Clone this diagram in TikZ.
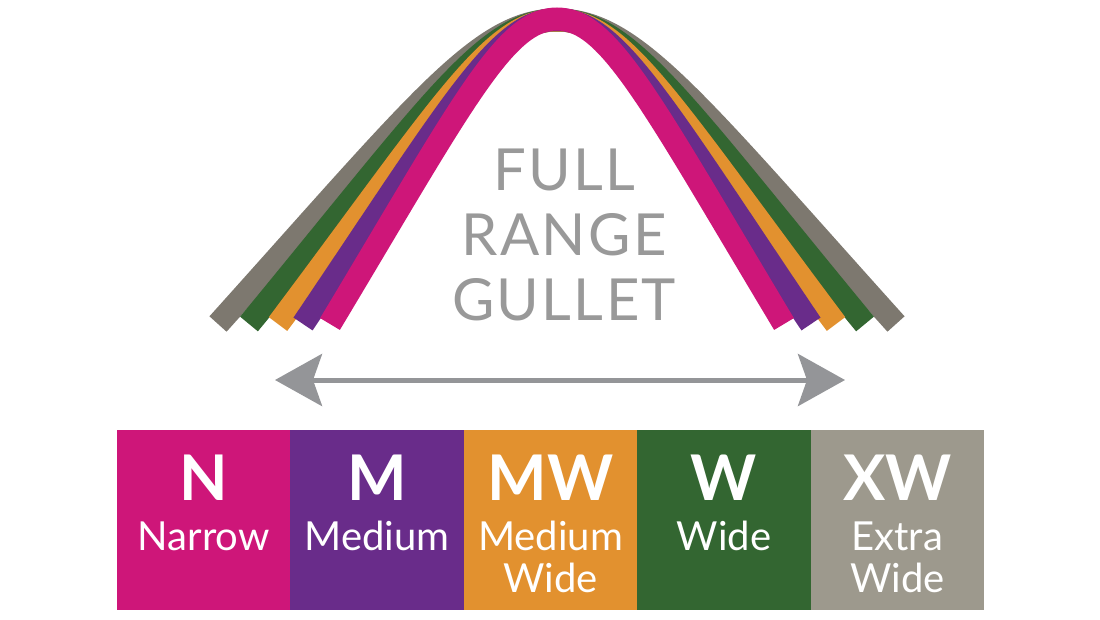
\documentclass[tikz,border=0pt]{standalone}
\usepackage{fontspec}
\setmainfont{Lato}
\newfontfamily\titlefont[LetterSpace=4]{Lato}
\usetikzlibrary{arrows.meta,positioning}
\definecolor{nPink}{RGB}{206,22,121}
\definecolor{mPurple}{RGB}{105,44,138}
\definecolor{mwOrange}{RGB}{226,145,47}
\definecolor{wGreen}{RGB}{51,102,49}
\definecolor{xwGrey}{RGB}{157,153,141}
\definecolor{ribGrey}{RGB}{125,120,111}
\definecolor{titleGrey}{RGB}{153,153,153}
\definecolor{arrowGrey}{RGB}{148,149,152}

\begin{document}
\begin{tikzpicture}[x=1pt,y=-1pt,>={Stealth[length=47pt,width=52pt,inset=9pt]},band/.style={line width=23pt},sizebox/.style={minimum width=173.4pt, minimum height=180pt, inner sep=0pt, outer sep=0pt},abbr/.style={text=white, anchor=base, font=\fontsize{63}{63}\selectfont\bfseries},subtl/.style={text=white, anchor=base, align=center, font=\fontsize{40}{42}\selectfont},title/.style={text=titleGrey, anchor=base, align=center, font=\titlefont\fontsize{58}{65}\selectfont},widtharrow/.style={<->, draw=arrowGrey, fill=arrowGrey, line width=5pt}]
\useasboundingbox (0,0) rectangle (1100,619);
% ribbons, back to front
\draw[band, ribGrey] (218,324) .. controls (419.6,100) and (480,20) .. (557,20) .. controls (634,20) and (694.4,100) .. (896,324);
\draw[band, wGreen] (249,324) .. controls (433.8,100) and (486,20) .. (557,20) .. controls (628,20) and (680.2,100) .. (865,324);
\draw[band, mwOrange] (278,324) .. controls (446,100) and (492,20) .. (557,20) .. controls (622,20) and (668,100) .. (836,324);
\draw[band, mPurple] (303,324) .. controls (454.2,100) and (499,19.5) .. (557,19.5) .. controls (615,19.5) and (659.8,100) .. (811,324);
\draw[band, nPink] (330,324) .. controls (464.4,100) and (505,19) .. (557,19) .. controls (609,19) and (649.6,100) .. (784,324);
\node[title] (gullet) at (564,320) {FULL\\RANGE\\GULLET};
\coordinate (arrL) at (275,380); \coordinate (arrR) at (845,380);
\draw[widtharrow] (arrL) -- (arrR);
% size boxes
\node[sizebox, fill=nPink, anchor=north west] (narrow) at (117,430) {};
\node[sizebox, fill=mPurple, right=0pt of narrow] (medium) {};
\node[sizebox, fill=mwOrange, right=0pt of medium] (medwide) {};
\node[sizebox, fill=wGreen, right=0pt of medwide] (wide) {};
\node[sizebox, fill=xwGrey, right=0pt of wide] (xwide) {};
\node[abbr] (narrowAb) at ([yshift=-70pt]narrow.north) {N};
\node[abbr] (mediumAb) at ([yshift=-70pt]medium.north) {M};
\node[abbr] (medwideAb) at ([yshift=-70pt]medwide.north) {MW};
\node[abbr] (wideAb) at ([yshift=-70pt]wide.north) {W};
\node[abbr] (xwideAb) at ([yshift=-70pt]xwide.north) {XW};
\node[subtl] (narrowTx) at ([yshift=-120pt]narrow.north) {Narrow};
\node[subtl] (mediumTx) at ([yshift=-120pt]medium.north) {Medium};
\node[subtl] (medwideTx) at ([yshift=-162pt]medwide.north) {Medium\\Wide};
\node[subtl] (wideTx) at ([yshift=-120pt]wide.north) {Wide};
\node[subtl] (xwideTx) at ([yshift=-162pt]xwide.north) {Extra\\Wide};
\end{tikzpicture}
\end{document}
